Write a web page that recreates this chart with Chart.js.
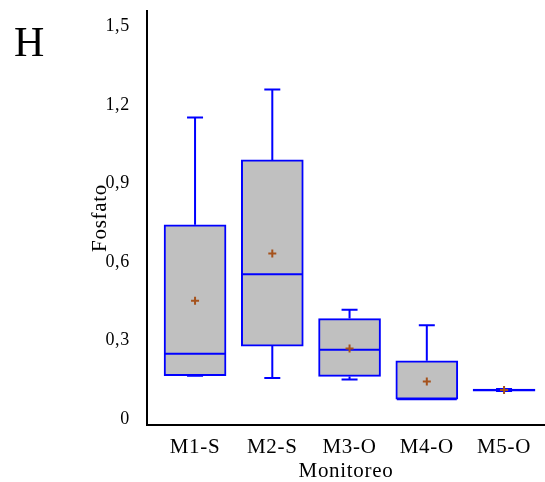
<!DOCTYPE html>
<html>
<head>
<meta charset="utf-8">
<script src="https://cdn.jsdelivr.net/npm/chart.js@4.4.0/dist/chart.umd.min.js"></script>
<style>
  html, body { margin: 0; padding: 0; background: #fff; }
  #wrap { position: relative; width: 545px; height: 482px; }
  #panel { position: absolute; left: 14px; top: 21px; font-family: "Liberation Serif"; font-size: 42px; line-height: 1; color: #000; }
</style>
</head>
<body>
<div id="wrap">
  <canvas id="myChart" width="545" height="482"></canvas>
  <div id="panel">H</div>
</div>
<script>
// box plot stats per site
const sites = ['M1-S', 'M2-S', 'M3-O', 'M4-O', 'M5-O'];
const whiskerLow  = [0.158, 0.149, 0.143, 0.068, 0.099];
const q1          = [0.158, 0.271, 0.155, 0.068, 0.099];
const median      = [0.242, 0.545, 0.257, 0.068, 0.103];
const q3          = [0.734, 0.982, 0.376, 0.215, 0.107];
const whiskerHigh = [1.144, 1.251, 0.410, 0.350, 0.107];
const means       = [0.444, 0.625, 0.262, 0.136, 0.103];
const yTicks      = [0, 0.3, 0.6, 0.9, 1.2, 1.5];
const yTickLabels = ['0', '0,3', '0,6', '0,9', '1,2', '1,5'];

const BLUE = '#0000ff';
const boxWidth = 62;
const capHalf = 8;
const serif = 'Liberation Serif';

// whiskers + median lines, drawn right after the boxes
const boxExtras = {
  id: 'boxExtras',
  beforeDraw(chart) {
    chart.ctx.letterSpacing = '0.7px';
  },
  afterDatasetDraw(chart, args) {
    if (args.index !== 0) return;
    const ctx = chart.ctx;
    const x = chart.scales.x, y = chart.scales.y;
    ctx.save();
    ctx.strokeStyle = BLUE;
    ctx.lineWidth = 2;
    sites.forEach((s, i) => {
      const cx = x.getPixelForValue(i + 1);
      const yHi = y.getPixelForValue(whiskerHigh[i]);
      const yLo = y.getPixelForValue(whiskerLow[i]);
      const yQ3 = y.getPixelForValue(q3[i]);
      const yQ1 = y.getPixelForValue(q1[i]);
      const yMed = y.getPixelForValue(median[i]);
      ctx.beginPath();
      ctx.moveTo(cx, yQ3); ctx.lineTo(cx, yHi);
      ctx.moveTo(cx - capHalf, yHi); ctx.lineTo(cx + capHalf, yHi);
      ctx.moveTo(cx, yQ1); ctx.lineTo(cx, yLo);
      ctx.moveTo(cx - capHalf, yLo); ctx.lineTo(cx + capHalf, yLo);
      ctx.moveTo(cx - boxWidth / 2 + 1, yMed); ctx.lineTo(cx + boxWidth / 2 - 1, yMed);
      ctx.stroke();
    });
    ctx.restore();
  }
};

const ctx = document.getElementById('myChart').getContext('2d');
const myChart = new Chart(ctx, {
  type: 'bar',
  data: {
    datasets: [
      {
        label: 'Caja',
        data: sites.map((s, i) => ({ x: i + 1, y: [q1[i], q3[i]] })),
        backgroundColor: '#c0c0c0',
        borderColor: BLUE,
        borderWidth: 2,
        borderSkipped: false,
        barThickness: boxWidth,
        order: 2
      },
      {
        type: 'scatter',
        label: 'Media',
        data: sites.map((s, i) => ({ x: i + 1, y: means[i] })),
        pointStyle: 'cross',
        pointRadius: 4,
        borderColor: '#a5521c',
        borderWidth: 2,
        order: 1
      }
    ]
  },
  options: {
    responsive: false,
    animation: false,
    layout: { autoPadding: false, padding: { left: 88, top: 11, right: 0, bottom: 0 } },
    plugins: {
      legend: { display: false },
      tooltip: { enabled: false }
    },
    scales: {
      x: {
        type: 'linear',
        offset: false,
        min: 0.378,
        max: 5.53,
        grid: { display: false, offset: false },
        border: { display: true, color: '#000', width: 2 },
        afterBuildTicks: (s) => { s.ticks = sites.map((_, i) => ({ value: i + 1 })); },
        afterFit: (s) => { s.height = 57; s.paddingLeft = 0; s.paddingRight = 0; },
        ticks: {
          color: '#000',
          padding: 2,
          font: { family: serif, size: 21 },
          maxRotation: 0,
          callback: (v) => sites[v - 1]
        },
        title: {
          display: true,
          text: 'Monitoreo',
          color: '#000',
          font: { family: serif, size: 21 },
          padding: { top: 0, bottom: -2 }
        }
      },
      y: {
        min: -0.0306,
        max: 1.551,
        grid: { display: false },
        border: { display: true, color: '#000', width: 2 },
        afterBuildTicks: (s) => { s.ticks = yTicks.map(v => ({ value: v })); },
        afterFit: (s) => { s.width = 59; s.paddingTop = 0; s.paddingBottom = 0; },
        ticks: {
          color: '#000',
          padding: 9,
          labelOffset: 2,
          font: { family: serif, size: 18 },
          callback: (v, idx) => yTickLabels[idx]
        },
        title: {
          display: true,
          text: 'Fosfato',
          color: '#000',
          font: { family: serif, size: 21 },
          padding: { top: 0, bottom: 0 }
        }
      }
    }
  },
  plugins: [boxExtras]
});
</script>
</body>
</html>
